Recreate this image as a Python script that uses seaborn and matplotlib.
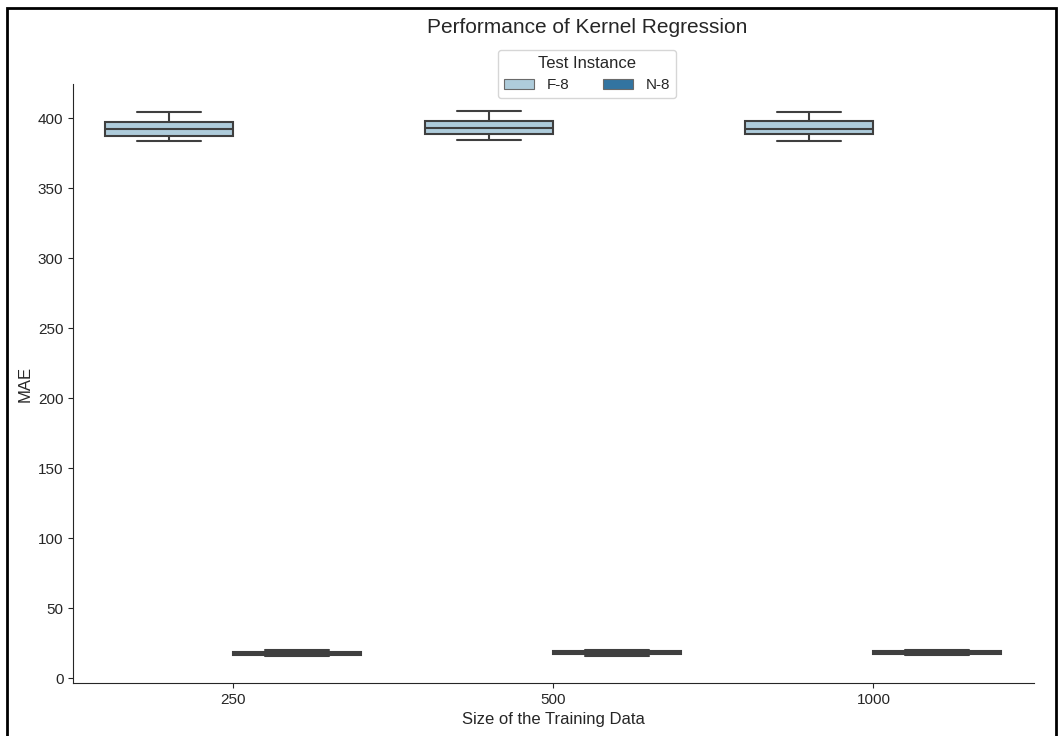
import pandas as pd
import matplotlib.pyplot as plt
import seaborn as sns
from matplotlib.patches import Rectangle

# training sizes and test instances
sizes = ["250", "500", "1000"]
instances = ["F-8", "N-8"]

# per-run MAE values (min, q1, median, q3, max)
f8_250 = [383.8, 387.4, 392.4, 397.6, 404.3]
f8_500 = [384.3, 388.6, 393.3, 398.3, 405.2]
f8_1000 = [383.8, 389.0, 392.2, 398.0, 404.3]
n8_250 = [16.2, 17.1, 18.0, 19.2, 20.2]
n8_500 = [16.3, 17.2, 18.1, 19.3, 20.3]
n8_1000 = [16.4, 17.3, 18.2, 19.5, 20.5]

rows = []
for size, vals in zip(sizes, [f8_250, f8_500, f8_1000]):
    for v in vals:
        rows.append({"size": size, "Test Instance": "F-8", "MAE": v})
for size, vals in zip(sizes, [n8_250, n8_500, n8_1000]):
    for v in vals:
        rows.append({"size": size, "Test Instance": "N-8", "MAE": v})
data = pd.DataFrame(rows)

sns.set_style("ticks")
plt.rcParams["font.family"] = ["Liberation Sans", "DejaVu Sans"]

fig = plt.figure(figsize=(10.6, 7.36), dpi=100)
ax = fig.add_axes([0.069, 0.072, 0.906, 0.814])
sns.boxplot(data=data, x="size", y="MAE", hue="Test Instance",
            order=sizes, hue_order=instances, palette="Paired",
            linewidth=1.5, linecolor="#3f3f3f", ax=ax)
sns.despine(ax=ax)

ax.set_xlabel("Size of the Training Data", fontsize=12)
ax.set_ylabel("MAE", fontsize=12)
ax.tick_params(labelsize=11)
ax.set_yticks([0, 50, 100, 150, 200, 250, 300, 350, 400])

leg = ax.legend(title="Test Instance", ncol=2, loc="upper center",
                bbox_to_anchor=(0.535, 1.07), fontsize=11, title_fontsize=12,
                columnspacing=2.2, handlelength=2.0)
for h in leg.legend_handles:
    h.set_linewidth(0.8)
    h.set_edgecolor("#6a6a6a")

fig.text(0.554, 0.962, "Performance of Kernel Regression",
         ha="center", va="center", fontsize=15)

# black frame around the whole figure
fig.patches.append(Rectangle((0.0066, -0.01), 0.99, 0.999,
                             transform=fig.transFigure, fill=False,
                             edgecolor="black", linewidth=2))

fig.savefig("out.png", dpi=100)
